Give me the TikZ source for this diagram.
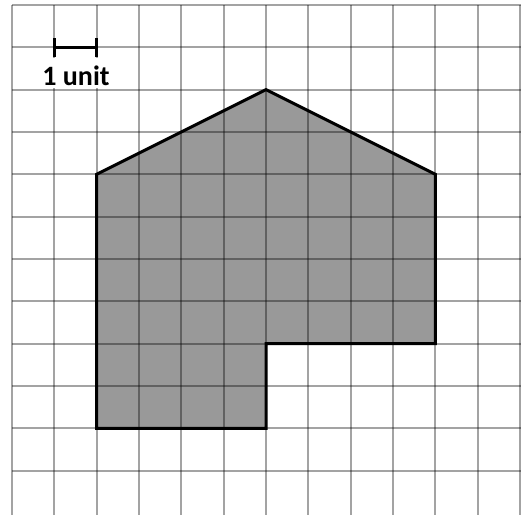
\documentclass[tikz,border=0pt]{standalone}
\usepackage{fontspec}
\newfontfamily\labelfont{Carlito}
\begin{document}
\begin{tikzpicture}[x=1pt,y=-1pt,
  gridline/.style={line width=2.2pt, draw=black, draw opacity=0.36},
  shapeline/.style={line width=3pt, line join=miter},
  barline/.style={line width=3.5pt},
  labeltext/.style={font=\labelfont\bfseries\fontsize{28}{30}\selectfont, fill=white,
    inner xsep=4pt, inner ysep=0pt, text height=27pt, text depth=3pt}]
\useasboundingbox (0,0) rectangle (521,515);
\fill[white] (0,0) rectangle (521,515);
\def\u{42.333}
% shaded figure
\fill[gray!80] (12+2*\u,5+4*\u) -- (12+6*\u,5+2*\u) -- (12+10*\u,5+4*\u) -- (12+10*\u,5+8*\u)
  -- (12+6*\u,5+8*\u) -- (12+6*\u,5+10*\u) -- (12+2*\u,5+10*\u) -- cycle;
% grid
\foreach \i in {0,...,12} {
  \draw[gridline] (12+\i*\u,5) -- (12+\i*\u,515);
}
\foreach \i in {0,...,11} {
  \draw[gridline] (12,5+\i*\u) -- (521,5+\i*\u);
}
% outline
\draw[shapeline] (12+2*\u,5+4*\u) -- (12+6*\u,5+2*\u) -- (12+10*\u,5+4*\u) -- (12+10*\u,5+8*\u)
  -- (12+6*\u,5+8*\u) -- (12+6*\u,5+10*\u) -- (12+2*\u,5+10*\u) -- cycle;
% label
\node[labeltext, anchor=base] (unitlabel) at (76,85) {1 unit};
% scale bar
\coordinate (barL) at (12+\u,5+\u);
\coordinate (barR) at (12+2*\u,5+\u);
\draw[barline] (barL) -- (barR);
\draw[barline] ([yshift=-10]barL) -- ([yshift=9]barL);
\draw[barline] ([yshift=-10]barR) -- ([yshift=9]barR);
\end{tikzpicture}
\end{document}
